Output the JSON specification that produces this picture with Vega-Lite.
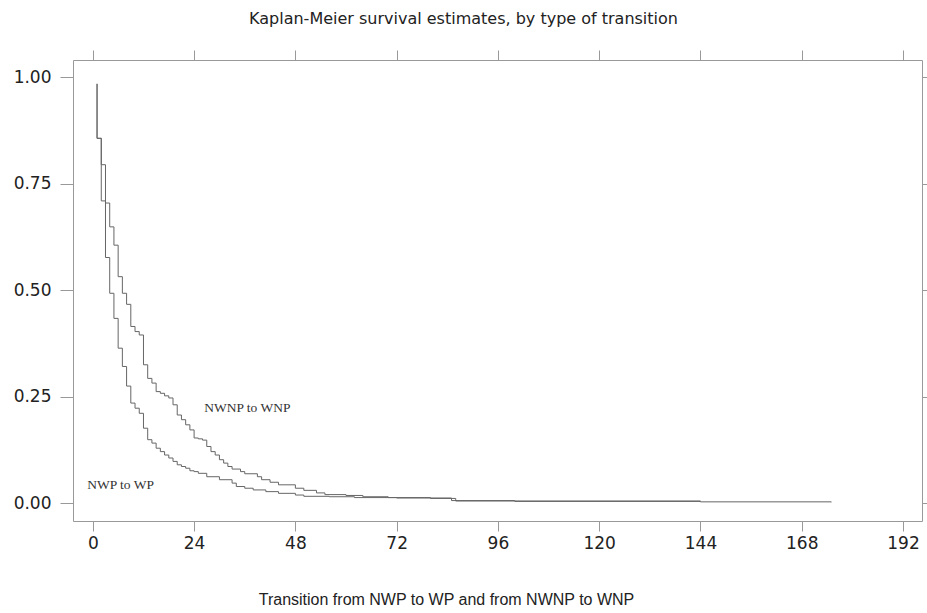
{
  "$schema": "https://vega.github.io/schema/vega-lite/v6.json",
  "width": 849,
  "height": 461,
  "autosize": "none",
  "padding": {"left": 73, "top": 60, "right": 5, "bottom": 92},
  "background": "white",
  "config": {
    "view": {"stroke": "#999", "strokeWidth": 1},
    "axis": {"grid": false, "domain": false, "tickColor": "#999", "labelFont": "DejaVu Sans", "labelFontSize": 17, "labelColor": "#222", "titleFont": "Liberation Sans"}
  },
  "title": {"text": "Kaplan-Meier survival estimates, by type of transition", "font": "DejaVu Sans", "fontSize": 16, "fontWeight": "normal", "color": "#222", "anchor": "middle", "dx": -34, "offset": 23},
  "layer": [
    {
      "data": {"values": [
        {"series": "NWNP to WNP", "i": 0, "t": 1, "s": 0.985},
        {"series": "NWNP to WNP", "i": 1, "t": 1, "s": 0.857},
        {"series": "NWNP to WNP", "i": 2, "t": 2, "s": 0.795},
        {"series": "NWNP to WNP", "i": 3, "t": 3, "s": 0.705},
        {"series": "NWNP to WNP", "i": 4, "t": 4, "s": 0.649},
        {"series": "NWNP to WNP", "i": 5, "t": 5, "s": 0.606},
        {"series": "NWNP to WNP", "i": 6, "t": 6, "s": 0.532},
        {"series": "NWNP to WNP", "i": 7, "t": 7, "s": 0.493},
        {"series": "NWNP to WNP", "i": 8, "t": 8, "s": 0.467},
        {"series": "NWNP to WNP", "i": 9, "t": 9, "s": 0.415},
        {"series": "NWNP to WNP", "i": 10, "t": 10, "s": 0.403},
        {"series": "NWNP to WNP", "i": 11, "t": 11, "s": 0.395},
        {"series": "NWNP to WNP", "i": 12, "t": 12, "s": 0.325},
        {"series": "NWNP to WNP", "i": 13, "t": 13, "s": 0.293},
        {"series": "NWNP to WNP", "i": 14, "t": 14, "s": 0.282},
        {"series": "NWNP to WNP", "i": 15, "t": 15, "s": 0.262},
        {"series": "NWNP to WNP", "i": 16, "t": 16, "s": 0.258},
        {"series": "NWNP to WNP", "i": 17, "t": 17, "s": 0.252},
        {"series": "NWNP to WNP", "i": 18, "t": 18, "s": 0.247},
        {"series": "NWNP to WNP", "i": 19, "t": 19, "s": 0.231},
        {"series": "NWNP to WNP", "i": 20, "t": 20, "s": 0.207},
        {"series": "NWNP to WNP", "i": 21, "t": 21, "s": 0.196},
        {"series": "NWNP to WNP", "i": 22, "t": 22, "s": 0.184},
        {"series": "NWNP to WNP", "i": 23, "t": 23, "s": 0.172},
        {"series": "NWNP to WNP", "i": 24, "t": 24, "s": 0.153},
        {"series": "NWNP to WNP", "i": 25, "t": 25, "s": 0.151},
        {"series": "NWNP to WNP", "i": 26, "t": 26, "s": 0.148},
        {"series": "NWNP to WNP", "i": 27, "t": 27, "s": 0.133},
        {"series": "NWNP to WNP", "i": 28, "t": 28, "s": 0.121},
        {"series": "NWNP to WNP", "i": 29, "t": 29, "s": 0.113},
        {"series": "NWNP to WNP", "i": 30, "t": 30, "s": 0.102},
        {"series": "NWNP to WNP", "i": 31, "t": 31, "s": 0.094},
        {"series": "NWNP to WNP", "i": 32, "t": 32, "s": 0.086},
        {"series": "NWNP to WNP", "i": 33, "t": 33, "s": 0.080},
        {"series": "NWNP to WNP", "i": 34, "t": 35, "s": 0.074},
        {"series": "NWNP to WNP", "i": 35, "t": 36, "s": 0.069},
        {"series": "NWNP to WNP", "i": 36, "t": 39, "s": 0.062},
        {"series": "NWNP to WNP", "i": 37, "t": 40, "s": 0.055},
        {"series": "NWNP to WNP", "i": 38, "t": 42, "s": 0.049},
        {"series": "NWNP to WNP", "i": 39, "t": 44, "s": 0.043},
        {"series": "NWNP to WNP", "i": 40, "t": 48, "s": 0.035},
        {"series": "NWNP to WNP", "i": 41, "t": 50, "s": 0.030},
        {"series": "NWNP to WNP", "i": 42, "t": 53, "s": 0.024},
        {"series": "NWNP to WNP", "i": 43, "t": 55, "s": 0.020},
        {"series": "NWNP to WNP", "i": 44, "t": 60, "s": 0.018},
        {"series": "NWNP to WNP", "i": 45, "t": 64, "s": 0.015},
        {"series": "NWNP to WNP", "i": 46, "t": 70, "s": 0.013},
        {"series": "NWNP to WNP", "i": 47, "t": 80, "s": 0.011},
        {"series": "NWNP to WNP", "i": 48, "t": 86, "s": 0.005},
        {"series": "NWNP to WNP", "i": 49, "t": 100, "s": 0.004},
        {"series": "NWNP to WNP", "i": 50, "t": 144, "s": 0.003},
        {"series": "NWNP to WNP", "i": 51, "t": 175, "s": 0.002},
        {"series": "NWP to WP", "i": 0, "t": 1, "s": 0.985},
        {"series": "NWP to WP", "i": 1, "t": 1, "s": 0.857},
        {"series": "NWP to WP", "i": 2, "t": 2, "s": 0.710},
        {"series": "NWP to WP", "i": 3, "t": 3, "s": 0.577},
        {"series": "NWP to WP", "i": 4, "t": 4, "s": 0.493},
        {"series": "NWP to WP", "i": 5, "t": 5, "s": 0.434},
        {"series": "NWP to WP", "i": 6, "t": 6, "s": 0.364},
        {"series": "NWP to WP", "i": 7, "t": 7, "s": 0.321},
        {"series": "NWP to WP", "i": 8, "t": 8, "s": 0.275},
        {"series": "NWP to WP", "i": 9, "t": 9, "s": 0.235},
        {"series": "NWP to WP", "i": 10, "t": 10, "s": 0.223},
        {"series": "NWP to WP", "i": 11, "t": 11, "s": 0.211},
        {"series": "NWP to WP", "i": 12, "t": 12, "s": 0.176},
        {"series": "NWP to WP", "i": 13, "t": 13, "s": 0.149},
        {"series": "NWP to WP", "i": 14, "t": 14, "s": 0.141},
        {"series": "NWP to WP", "i": 15, "t": 15, "s": 0.129},
        {"series": "NWP to WP", "i": 16, "t": 16, "s": 0.121},
        {"series": "NWP to WP", "i": 17, "t": 17, "s": 0.113},
        {"series": "NWP to WP", "i": 18, "t": 18, "s": 0.106},
        {"series": "NWP to WP", "i": 19, "t": 19, "s": 0.098},
        {"series": "NWP to WP", "i": 20, "t": 20, "s": 0.090},
        {"series": "NWP to WP", "i": 21, "t": 21, "s": 0.086},
        {"series": "NWP to WP", "i": 22, "t": 22, "s": 0.082},
        {"series": "NWP to WP", "i": 23, "t": 23, "s": 0.076},
        {"series": "NWP to WP", "i": 24, "t": 24, "s": 0.074},
        {"series": "NWP to WP", "i": 25, "t": 25, "s": 0.070},
        {"series": "NWP to WP", "i": 26, "t": 27, "s": 0.062},
        {"series": "NWP to WP", "i": 27, "t": 30, "s": 0.055},
        {"series": "NWP to WP", "i": 28, "t": 33, "s": 0.047},
        {"series": "NWP to WP", "i": 29, "t": 34, "s": 0.039},
        {"series": "NWP to WP", "i": 30, "t": 36, "s": 0.035},
        {"series": "NWP to WP", "i": 31, "t": 38, "s": 0.031},
        {"series": "NWP to WP", "i": 32, "t": 41, "s": 0.027},
        {"series": "NWP to WP", "i": 33, "t": 44, "s": 0.023},
        {"series": "NWP to WP", "i": 34, "t": 48, "s": 0.019},
        {"series": "NWP to WP", "i": 35, "t": 50, "s": 0.016},
        {"series": "NWP to WP", "i": 36, "t": 56, "s": 0.015},
        {"series": "NWP to WP", "i": 37, "t": 62, "s": 0.013},
        {"series": "NWP to WP", "i": 38, "t": 72, "s": 0.012},
        {"series": "NWP to WP", "i": 39, "t": 85, "s": 0.006},
        {"series": "NWP to WP", "i": 40, "t": 100, "s": 0.005},
        {"series": "NWP to WP", "i": 41, "t": 144, "s": 0.004}
      ]},
      "mark": {"type": "line", "interpolate": "step-after", "color": "#666", "strokeWidth": 1},
      "encoding": {
        "x": {"field": "t", "type": "quantitative", "scale": {"domain": [-4.7, 196.5], "nice": false, "zero": false},
          "axis": {"orient": "bottom", "values": [0, 24, 48, 72, 96, 120, 144, 168, 192], "format": "d", "tickSize": 10, "labelPadding": 4,
            "title": "Transition from NWP to WP and from NWNP to WNP", "titleFontSize": 16, "titleFontWeight": "normal", "titleColor": "#222",
            "titleX": 373, "titleY": 83, "titleAlign": "center", "titleBaseline": "alphabetic"}},
        "y": {"field": "s", "type": "quantitative", "scale": {"domain": [-0.042, 1.041], "nice": false, "zero": false},
          "axis": {"orient": "left", "values": [0, 0.25, 0.5, 0.75, 1], "format": ".2f", "title": null, "tickSize": 13, "labelPadding": 9}},
        "detail": {"field": "series"},
        "order": {"field": "i"}
      }
    },
    {
      "data": {"values": [
        {"label": "NWNP to WNP", "t": 26.4, "s": 0.224},
        {"label": "NWP to WP", "t": -1.35, "s": 0.043}
      ]},
      "mark": {"type": "text", "font": "Liberation Serif", "fontSize": 13.5, "align": "left", "baseline": "middle", "color": "#333"},
      "encoding": {
        "x": {"field": "t", "type": "quantitative", "axis": {"orient": "top", "values": [0, 24, 48, 72, 96, 120, 144, 168, 192], "labels": false, "title": null, "tickSize": 10}},
        "y": {"field": "s", "type": "quantitative", "axis": {"orient": "right", "values": [0, 0.25, 0.5, 0.75, 1], "labels": false, "title": null, "tickSize": 8}},
        "text": {"field": "label"}
      }
    }
  ],
  "resolve": {"axis": {"x": "independent", "y": "independent"}}
}
